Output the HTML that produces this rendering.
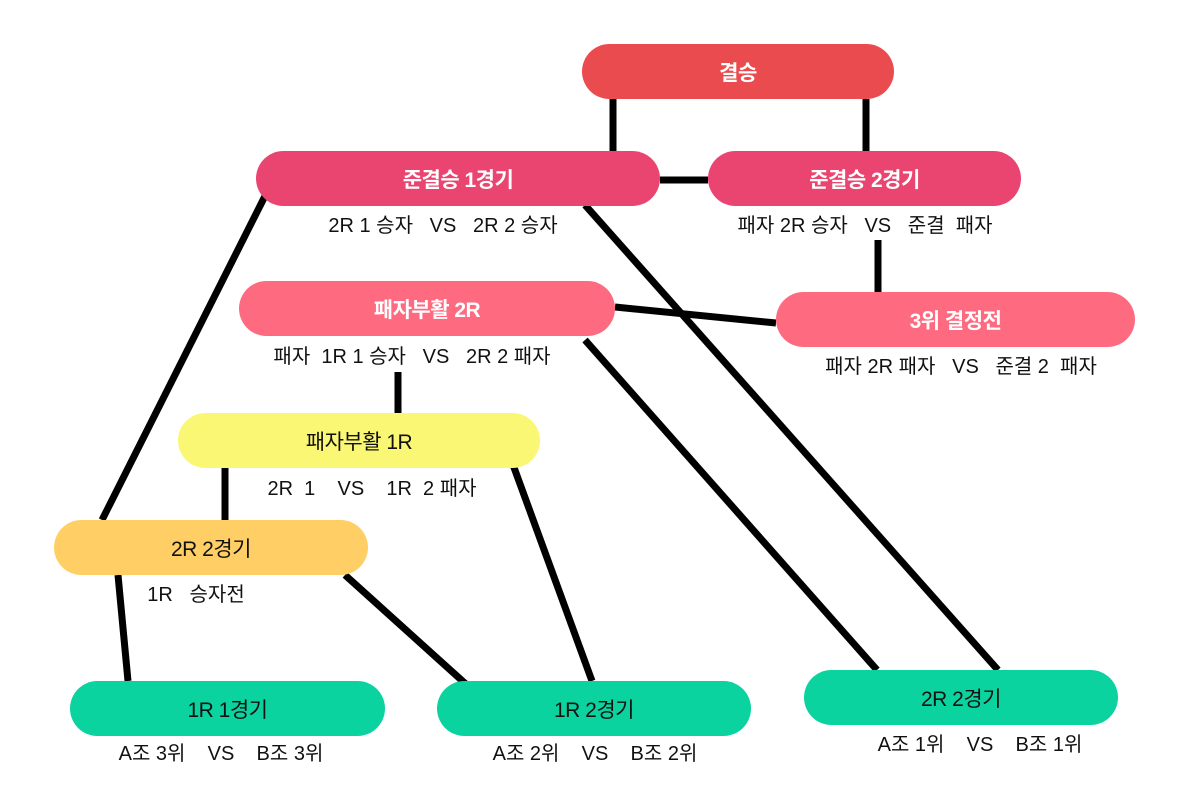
<!DOCTYPE html>
<html><head><meta charset="utf-8">
<style>
html,body{margin:0;padding:0;background:#fff;}
body{width:1200px;height:800px;position:relative;overflow:hidden;font-family:"Liberation Sans","Noto Sans CJK KR",sans-serif;}
.b{position:absolute;border-radius:28px;display:flex;align-items:center;justify-content:center;font-size:21px;font-weight:bold;color:#fff;letter-spacing:-0.5px;}
.t{position:absolute;font-size:20px;color:#111;white-space:pre;transform:translateX(-50%);}
svg{position:absolute;left:0;top:0;}
</style></head><body>
<svg width="1200" height="800">
<g stroke="#000" stroke-width="7" stroke-linecap="butt">
<line x1="613" y1="99" x2="613" y2="151"/>
<line x1="866" y1="99" x2="866" y2="151"/>
<line x1="660" y1="180" x2="708" y2="180"/>
<line x1="878" y1="240" x2="878" y2="292"/>
<line x1="615" y1="307" x2="776" y2="323"/>
<line x1="265" y1="196" x2="102" y2="520"/>
<line x1="585" y1="205" x2="998" y2="670"/>
<line x1="585" y1="340" x2="877" y2="670"/>
<line x1="398" y1="372" x2="398" y2="421"/>
<line x1="225" y1="468" x2="225" y2="520"/>
<line x1="512" y1="462" x2="592" y2="681"/>
<line x1="118" y1="575" x2="128" y2="681"/>
<line x1="345" y1="575" x2="468" y2="686"/>
</g></svg>
<div class="b" style="left:582px;top:44px;width:312px;height:55px;background:#EA4B4E;">결승</div>
<div class="b" style="left:256px;top:151px;width:404px;height:55px;background:#EA4470;">준결승 1경기</div>
<div class="b" style="left:708px;top:151px;width:313px;height:55px;background:#EA4470;">준결승 2경기</div>
<div class="b" style="left:239px;top:281px;width:376px;height:55px;background:#FE6A80;">패자부활 2R</div>
<div class="b" style="left:776px;top:292px;width:359px;height:55px;background:#FE6A80;">3위 결정전</div>
<div class="b" style="left:178px;top:413px;width:362px;height:55px;background:#FAF775;color:#111;font-weight:normal;">패자부활 1R</div>
<div class="b" style="left:54px;top:520px;width:314px;height:55px;background:#FFCF66;color:#111;font-weight:normal;">2R 2경기</div>
<div class="b" style="left:70px;top:681px;width:315px;height:55px;background:#0BD39F;color:#111;font-weight:normal;">1R 1경기</div>
<div class="b" style="left:437px;top:681px;width:314px;height:55px;background:#0BD39F;color:#111;font-weight:normal;">1R 2경기</div>
<div class="b" style="left:804px;top:670px;width:314px;height:55px;background:#0BD39F;color:#111;font-weight:normal;">2R 2경기</div>
<div class="t" style="left:443px;top:209px;">2R 1 승자   VS   2R 2 승자</div>
<div class="t" style="left:865px;top:209px;">패자 2R 승자   VS   준결  패자</div>
<div class="t" style="left:412px;top:340px;">패자  1R 1 승자   VS   2R 2 패자</div>
<div class="t" style="left:961px;top:350px;">패자 2R 패자   VS   준결 2  패자</div>
<div class="t" style="left:372px;top:472px;">2R  1    VS    1R  2 패자</div>
<div class="t" style="left:196px;top:578px;">1R   승자전</div>
<div class="t" style="left:221px;top:737px;">A조 3위    VS    B조 3위</div>
<div class="t" style="left:595px;top:737px;">A조 2위    VS    B조 2위</div>
<div class="t" style="left:980px;top:728px;">A조 1위    VS    B조 1위</div>
</body></html>
